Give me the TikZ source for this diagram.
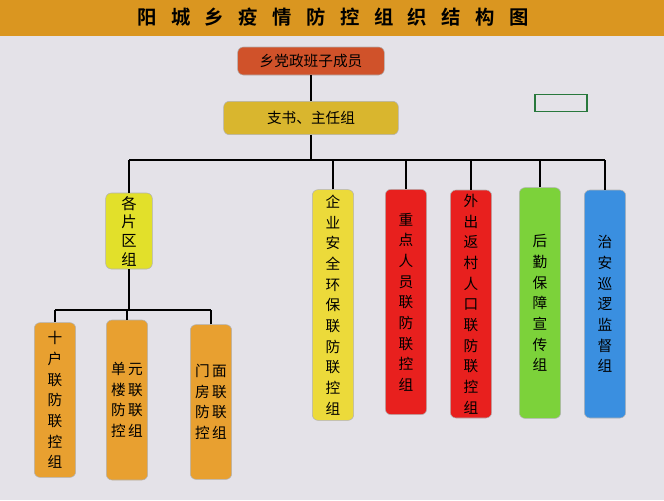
\documentclass[tikz,border=0pt]{standalone}
\usepackage{fontspec}
\newfontfamily\cjk{Noto Sans CJK SC}
\newfontfamily\cjkbold{Noto Sans CJK SC Bold}
\usetikzlibrary{positioning}
\definecolor{bgColor}{RGB}{228,226,232}
\definecolor{bandColor}{RGB}{218,150,32}
\definecolor{topColor}{RGB}{208,82,42}
\definecolor{leadColor}{RGB}{217,182,46}
\definecolor{areaColor}{RGB}{226,224,42}
\definecolor{unitColor}{RGB}{232,160,48}
\definecolor{firmColor}{RGB}{236,218,58}
\definecolor{redColor}{RGB}{232,32,30}
\definecolor{greenColor}{RGB}{124,210,58}
\definecolor{blueColor}{RGB}{58,143,224}
\definecolor{markColor}{RGB}{40,120,60}
\tikzset{group/.style={draw=black!30, align=center, rounded corners=.15cm, inner sep=0pt,
    font=\cjk\fontsize{11}{15.5}\selectfont}}
\tikzset{column/.style={group, minimum width=31pt}}
\tikzset{link/.style={draw, line width=1.1pt}}

\begin{document}
\begin{tikzpicture}[x=0.75pt, y=-0.75pt]
	% Background
	\fill[bgColor] (0,0) rectangle (664,500);
	\fill[bandColor] (0,0) rectangle (664,36);
	\node (title) at (333,17) {\cjkbold\fontsize{14.5}{16}\selectfont 阳\hspace{.75em}城\hspace{.75em}乡\hspace{.75em}疫\hspace{.75em}情\hspace{.75em}防\hspace{.75em}控\hspace{.75em}组\hspace{.75em}织\hspace{.75em}结\hspace{.75em}构\hspace{.75em}图};
	\node (mark) [draw=markColor, line width=1.2pt, minimum width=39pt, minimum height=13pt, inner sep=0pt] at (561,103) {};

	% Nodes
	\node (party) [group, fill=topColor, minimum width=110pt, minimum height=21pt] at (311,61) {乡党政班子成员};
	\node (lead) [group, fill=leadColor, minimum width=131pt, minimum height=25pt] at (311,118) {支书、主任组};

	\node (area) [column, fill=areaColor, minimum width=35pt, minimum height=57pt, font=\cjk\fontsize{11.5}{14}\selectfont] at (129,231) {各\\片\\区\\组};
	\node (firm) [column, fill=firmColor, minimum height=173pt] at (333,305) {企\\业\\安\\全\\环\\保\\联\\防\\联\\控\\组};
	\node (key) [column, fill=redColor, minimum height=169pt] at (406,302) {重\\点\\人\\员\\联\\防\\联\\控\\组};
	\node (back) [column, fill=redColor, minimum height=171pt] at (471,304) {外\\出\\返\\村\\人\\口\\联\\防\\联\\控\\组};
	\node (supply) [column, fill=greenColor, minimum height=173pt] at (540,303) {后\\勤\\保\\障\\宣\\传\\组};
	\node (patrol) [column, fill=blueColor, minimum height=171pt] at (605,304) {治\\安\\巡\\逻\\监\\督\\组};

	\node (house) [column, fill=unitColor, minimum height=116pt] at (55,400) {十\\户\\联\\防\\联\\控\\组};
	\node (block) [column, fill=unitColor, minimum height=120pt] at (127,400) {单\,元\\楼\,联\\防\,联\\控\,组};
	\node (shop) [column, fill=unitColor, minimum height=116pt] at (211,402) {门\,面\\房\,联\\防\,联\\控\,组};

	\coordinate (bus) at (129,160);
	\coordinate (subbus) at (55,310);

	% Connectors
	\draw [link] (party) -- (lead);
	\draw [link] (lead) -- (lead.south |- bus);
	\draw [link] (area.north |- bus) -- (patrol.north |- bus);
	\foreach \g in {area, firm, key, back, supply, patrol}
		\draw [link] (\g.north) -- (\g.north |- bus);

	\draw [link] (area) -- (area.south |- subbus);
	\draw [link] (house.north |- subbus) -- (shop.north |- subbus);
	\foreach \g in {house, block, shop}
		\draw [link] (\g.north) -- (\g.north |- subbus);
\end{tikzpicture}
\end{document}
